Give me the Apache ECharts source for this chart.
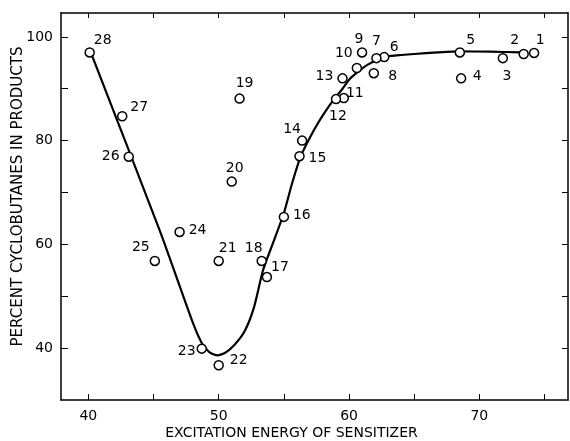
<!DOCTYPE html>
<html>
<head>
<meta charset="utf-8">
<script src="https://cdn.jsdelivr.net/npm/echarts@6/dist/echarts.min.js"></script>
<style>
    html, body { margin: 0; padding: 0; background: #fff; }
    #chart { width: 570px; height: 441px; }
</style>
</head>
<body>
<div id="chart"></div>
<script>
// sample numbers 1..28 with their sensitizer energy and % cyclobutanes
const pointIds = [1, 2, 3, 4, 5, 6, 7, 8, 9, 10, 11, 12, 13, 14,
    15, 16, 17, 18, 19, 20, 21, 22, 23, 24, 25, 26, 27, 28]
const energyX = [74.2, 73.4, 71.8, 68.6, 68.5, 62.7, 62.1, 61.9, 61.0, 60.6, 59.6, 59.0, 59.5, 56.4,
    56.2, 55.0, 53.7, 53.3, 51.6, 51.0, 50.0, 50.0, 48.7, 47.0, 45.1, 43.1, 42.6, 40.1]
const percentY = [96.9, 96.7, 95.9, 92.0, 97.0, 96.1, 95.9, 93.0, 97.0, 94.0, 88.2, 88.0, 92.0, 80.0,
    77.0, 65.3, 53.7, 56.8, 88.1, 72.1, 56.8, 36.7, 39.9, 62.4, 56.8, 76.9, 84.7, 97.0]

// hand drawn curve through the points
const curveX = [40.2, 45.5, 48.0, 48.7, 49.3, 49.9, 50.5, 51.2, 52.0, 52.7, 53.4, 54.2, 55.0,
    55.6, 56.3, 57.0, 57.6, 58.2, 58.8, 59.5, 60.1, 60.8, 61.4, 62.1, 62.9, 64.0, 65.0,
    66.8, 68.5, 70.8, 73.2]
const curveY = [96.9, 62.5, 45.0, 41.0, 39.2, 38.6, 39.1, 40.6, 43.3, 47.8, 55.0, 60.5, 66.0,
    71.5, 77.0, 80.6, 83.3, 85.7, 87.8, 90.0, 92.0, 93.5, 94.6, 95.5, 96.2, 96.5, 96.7,
    97.0, 97.2, 97.15, 97.0]

const xLabelValues = [40, 50, 60, 70]
const xTickValues = [40, 45, 50, 55, 60, 65, 70, 75]
const yLabelValues = [40, 60, 80, 100]
const yTickValues = [40, 50, 60, 70, 80, 90, 100]

// where each number sits next to its circle (px, from the circle centre)
const labelOffset = {
    1: [6, -13], 2: [-9, -14], 3: [4, 18], 4: [16, -2], 5: [11, -12], 6: [10, -10], 7: [0, -17],
    8: [19, 3], 9: [-3, -13], 10: [-13, -15], 11: [11, -5], 12: [2, 17], 13: [-18, -2], 14: [-10, -11],
    15: [18, 2], 16: [18, -2], 17: [13, -10], 18: [-8, -13], 19: [5, -15], 20: [3, -13], 21: [9, -13],
    22: [20, -5], 23: [-15, 3], 24: [18, -2], 25: [-14, -14], 26: [-18, 0], 27: [17, -9], 28: [13, -12]
}

const FONT = 'DejaVu Sans'
const ink = '#000'

const myChart = echarts.init(document.getElementById('chart'), null, { renderer: 'canvas' })

const points = pointIds.map((id, i) => ({
    value: [energyX[i], percentY[i]],
    label: { offset: labelOffset[id] }
}))
const curve = curveX.map((x, i) => [x, curveY[i]])

const boxLine = { show: true, onZero: false, lineStyle: { color: ink, width: 1.5 } }

const option = {
    animation: false,
    backgroundColor: '#fff',
    grid: { left: 61, right: 2, top: 13, bottom: 41, outerBoundsMode: 'none', containLabel: false },
    xAxis: [
        {
            type: 'value',
            min: 37.9,
            max: 76.8,
            position: 'bottom',
            name: 'EXCITATION ENERGY OF SENSITIZER',
            nameLocation: 'middle',
            nameGap: 26,
            nameMoveOverlap: false,
            nameTextStyle: { fontFamily: FONT, fontSize: 14, color: ink, padding: [0, 46, 0, 0] },
            axisLine: boxLine,
            axisTick: { show: true, inside: true, length: 6, customValues: xTickValues, lineStyle: { color: ink } },
            axisLabel: { customValues: xLabelValues, fontFamily: FONT, fontSize: 14, color: ink, margin: 9 },
            splitLine: { show: false }
        },
        {
            type: 'value',
            min: 37.9,
            max: 76.8,
            position: 'top',
            axisLine: boxLine,
            axisTick: { show: true, inside: true, length: 5, customValues: xTickValues, lineStyle: { color: ink } },
            axisLabel: { show: false },
            splitLine: { show: false }
        }
    ],
    yAxis: [
        {
            type: 'value',
            min: 30,
            max: 104.6,
            position: 'left',
            name: 'PERCENT CYCLOBUTANES IN PRODUCTS',
            nameLocation: 'middle',
            nameGap: 35,
            nameMoveOverlap: false,
            nameTextStyle: { fontFamily: FONT, fontSize: 15, color: ink, padding: [0, 0, 0, 20] },
            axisLine: boxLine,
            axisTick: { show: true, inside: true, length: 7, customValues: yTickValues, lineStyle: { color: ink } },
            axisLabel: { customValues: yLabelValues, fontFamily: FONT, fontSize: 14, color: ink, margin: 8 },
            splitLine: { show: false }
        },
        {
            type: 'value',
            min: 30,
            max: 104.6,
            position: 'right',
            axisLine: boxLine,
            axisTick: { show: true, inside: true, length: 6, customValues: yTickValues, lineStyle: { color: ink } },
            axisLabel: { show: false },
            splitLine: { show: false }
        }
    ],
    series: [
        {
            type: 'line',
            data: curve,
            smooth: 0.2,
            showSymbol: false,
            lineStyle: { color: ink, width: 2.2 },
            z: 2
        },
        {
            type: 'scatter',
            data: points,
            symbol: 'circle',
            symbolSize: 9,
            itemStyle: { color: '#fff', borderColor: ink, borderWidth: 1.5, opacity: 1 },
            label: {
                show: true,
                position: 'inside',
                formatter: p => pointIds[p.dataIndex],
                fontFamily: FONT,
                fontSize: 14,
                color: ink
            },
            z: 3
        }
    ]
}

myChart.setOption(option)
</script>
</body>
</html>
